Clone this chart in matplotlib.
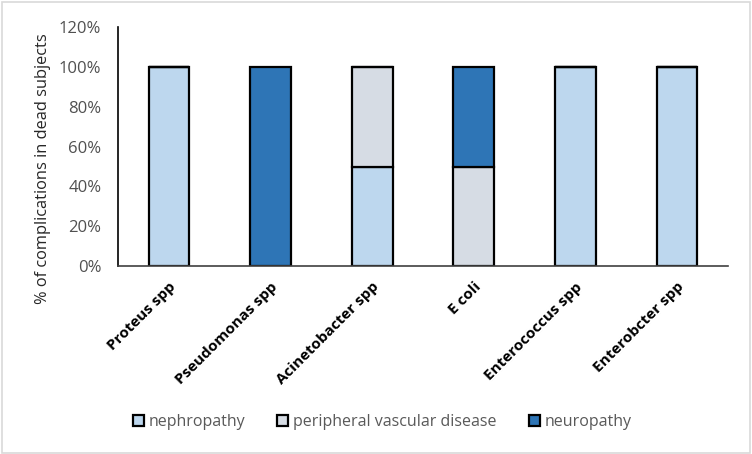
import numpy as np
import matplotlib.pyplot as plt
from matplotlib.patches import Rectangle

categories = ['Proteus spp', 'Pseudomonas spp', 'Acinetobacter spp', 'E coli',
              'Enterococcus spp', 'Enterobcter spp']
nephropathy = [100, 0, 50, 0, 100, 100]
peripheral = [0, 0, 50, 50, 0, 0]
neuropathy = [0, 100, 0, 50, 0, 0]

font = 'Open Sans'
plt.rcParams['font.family'] = [font, 'DejaVu Sans']

fig = plt.figure(figsize=(7.52, 4.54), dpi=100)
ax = fig.add_axes([0.157, 0.414, 0.811, 0.526])

x = np.arange(len(categories))
w = 0.4
ek = dict(edgecolor='black', linewidth=1.6, width=w)
b1 = ax.bar(x, nephropathy, color='#BDD7EE', label='nephropathy', **ek)
b2 = ax.bar(x, peripheral, bottom=nephropathy, color='#D6DCE4',
            label='peripheral vascular disease', **ek)
bottom2 = np.array(nephropathy) + np.array(peripheral)
b3 = ax.bar(x, neuropathy, bottom=bottom2, color='#2E75B6', label='neuropathy', **ek)

ax.set_xlim(-0.5, len(categories) - 0.5)
ax.set_ylim(0, 120)
ax.set_yticks(np.arange(0, 121, 20))
ax.set_yticklabels([f'{v}%' for v in range(0, 121, 20)], fontsize=12, color='#505050')
ax.set_xticks(x)
ax.set_xticklabels(categories, rotation=45, ha='right', rotation_mode='anchor',
                   fontsize=11, fontweight='bold', color='black')
ax.tick_params(axis='y', length=0, pad=12)
ax.tick_params(axis='x', length=0, pad=10)
ax.set_ylabel('% of complications in dead subjects', fontsize=11.8, color='#262626')
ax.yaxis.set_label_coords(-0.11, 0.41)
for s in ['top', 'right']:
    ax.spines[s].set_visible(False)
ax.spines['left'].set_color('black')
ax.spines['bottom'].set_color('#404040')
ax.spines['left'].set_linewidth(1.2)
ax.spines['bottom'].set_linewidth(1.2)

fig.legend(handles=[b1, b2, b3], loc='center', bbox_to_anchor=(0.508, 0.07), ncol=3,
           frameon=False, fontsize=11.5, labelcolor='#595959', handlelength=0.7,
           handleheight=0.7, handletextpad=0.3, columnspacing=2.0)

fig.patches.append(Rectangle((0.002, 0.003), 0.995, 0.993, transform=fig.transFigure,
                             fill=False, edgecolor='#D9D9D9', linewidth=1.2))

fig.savefig('out.png', dpi=100)
